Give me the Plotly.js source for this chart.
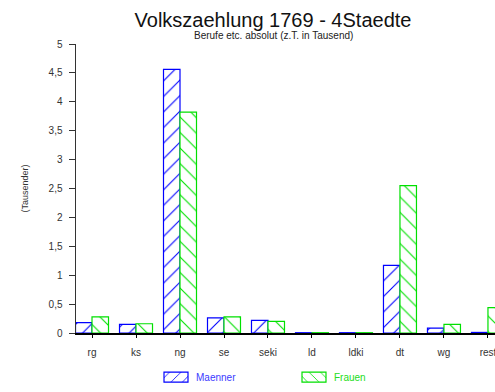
<!DOCTYPE html>
<html><head><meta charset="utf-8">
<script src="https://cdn.plot.ly/plotly-3.0.1.min.js"></script>
<style>html,body{margin:0;padding:0;background:#fff}#c{width:495px;height:392px}</style>
</head><body><div id="c"></div>
<script>
var categories = ["rg","ks","ng","se","seki","ld","ldki","dt","wg","rest"];
var maenner = [0.18,0.15,4.56,0.26,0.22,0.005,0.005,1.17,0.085,0.01];
var frauen  = [0.28,0.16,3.82,0.28,0.20,0.005,0.005,2.55,0.15,0.44];
var yTicks = [0,0.5,1,1.5,2,2.5,3,3.5,4,4.5,5];

var font = "Liberation Sans, Arial, sans-serif";
var traces = [
  {type:"bar", x:categories, y:maenner, name:'<span style="color:#3a3aff">Maenner</span>',
   marker:{color:"#ffffff", line:{color:"#0000ff", width:1.2},
     pattern:{shape:"/", fgcolor:"#0000ff", bgcolor:"#ffffff", size:11, solidity:0.1}}},
  {type:"bar", x:categories, y:frauen, name:'<span style="color:#22dd22">Frauen</span>',
   marker:{color:"#ffffff", line:{color:"#00e000", width:1.2},
     pattern:{shape:"\\", fgcolor:"#00e000", bgcolor:"#ffffff", size:11, solidity:0.1}}}
];
var layout = {
  width:495, height:392,
  margin:{l:76, r:0, t:44, b:53},
  paper_bgcolor:"#fff", plot_bgcolor:"#fff",
  separators:",.",
  font:{family:font, size:10, color:"#333"},
  barmode:"group", bargap:0.25, bargroupgap:0,
  title:{text:"Volkszaehlung 1769 - 4Staedte", font:{family:font, size:20, color:"#111"},
    x:273/495, xanchor:"center", xref:"container", y:1-20/392, yanchor:"middle", yref:"container"},
  annotations:[{text:"Berufe etc. absolut (z.T. in Tausend)", xref:"paper", yref:"paper",
    x:(273-76)/419, y:1+9/295, xanchor:"center", yanchor:"middle", showarrow:false,
    font:{family:font, size:10, color:"#222"}}],
  xaxis:{type:"category", range:[-0.364, 9.16], showline:true, linecolor:"#000", linewidth:1.5,
    ticks:"outside", ticklen:3, tickcolor:"#000", showgrid:false, zeroline:false,
    ticklabelstandoff:6,
    tickfont:{size:10, color:"#333"}, fixedrange:true},
  yaxis:{range:[0,5], tickvals:yTicks, showline:true, linecolor:"#333", linewidth:1.5,
    ticks:"outside", ticklen:6, tickcolor:"#333", showgrid:false, zeroline:false,
    ticklabelstandoff:4,
    tickfont:{size:10, color:"#333"},
    title:{text:"(Tausender)", font:{size:9, color:"#333"}, standoff:18}},
  showlegend:true,
  legend:{orientation:"h", x:(156-76)/419, xanchor:"left", y:-(384-339)/295, yanchor:"middle",
    font:{size:10}, entrywidth:93, entrywidthmode:"pixels", itemwidth:30, bgcolor:"rgba(0,0,0,0)"}
};
Plotly.newPlot("c", traces, layout, {displayModeBar:false, staticPlot:true}).then(function(gd){
  gd.querySelectorAll(".legendpoints path").forEach(function(p){
    p.setAttribute("d","M12,5H-12V-5H12Z");
  });
});
</script></body></html>
